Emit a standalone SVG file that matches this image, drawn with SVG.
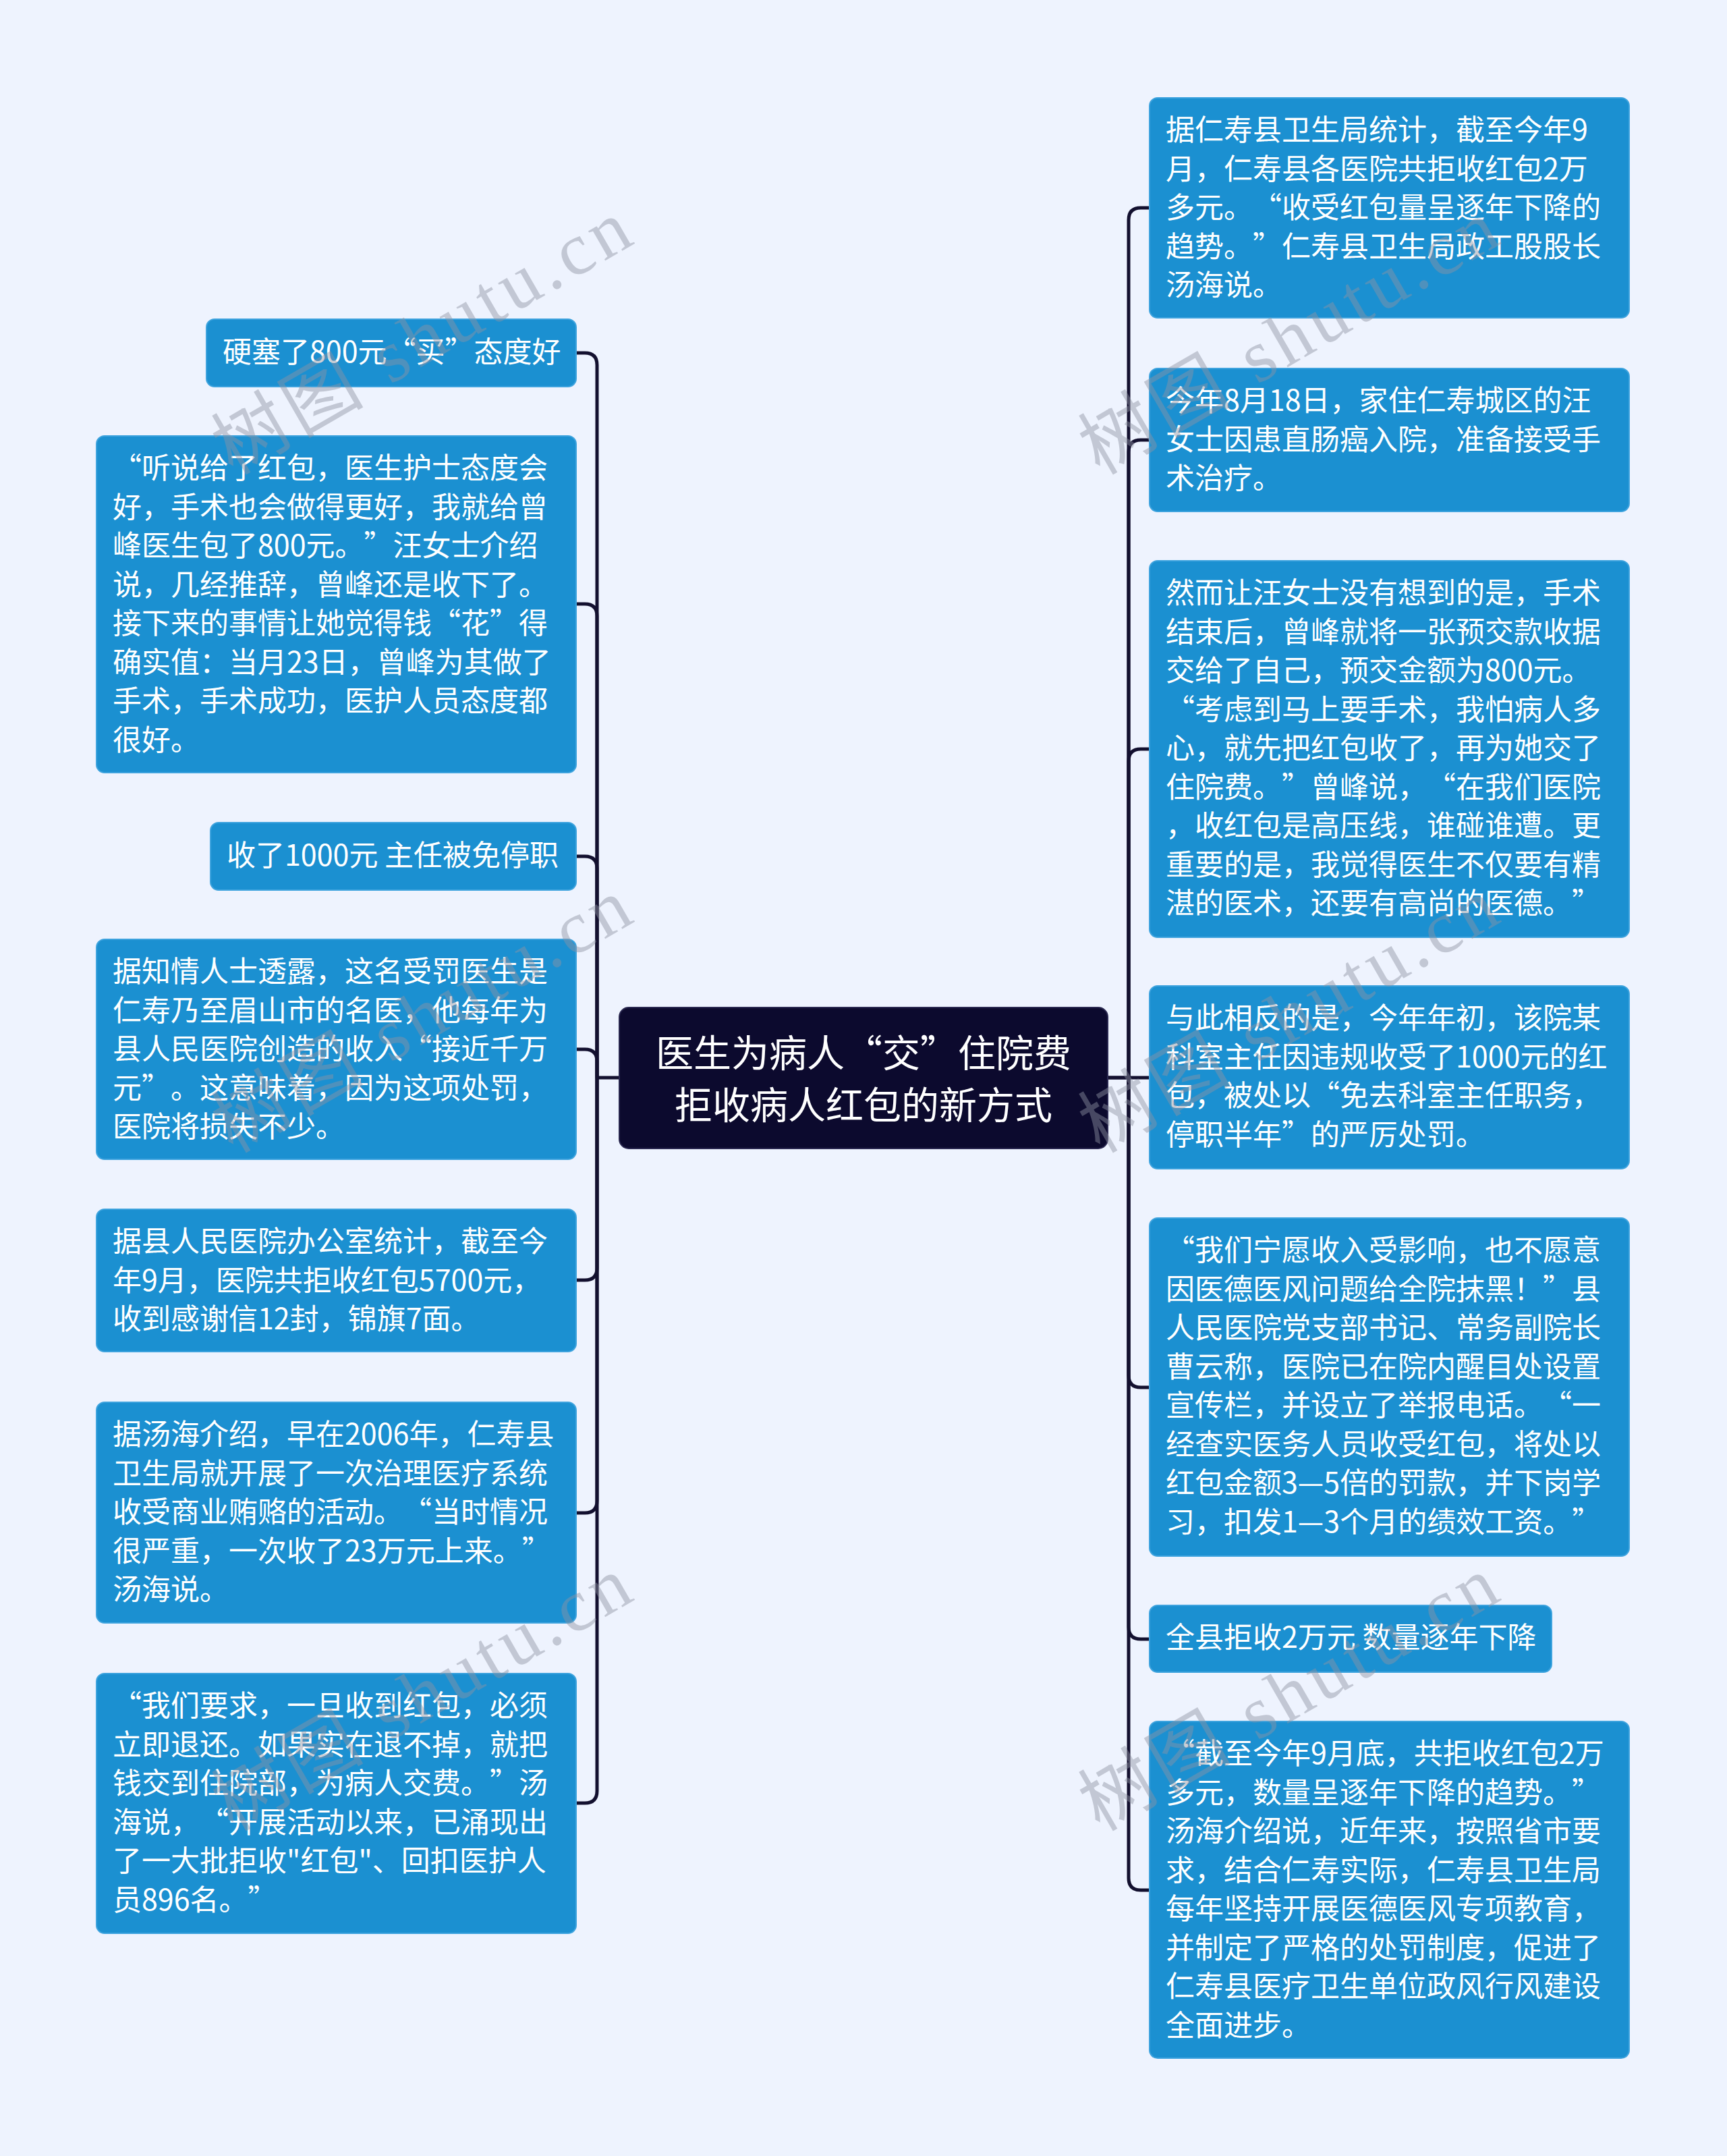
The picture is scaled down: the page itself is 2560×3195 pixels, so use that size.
<svg xmlns="http://www.w3.org/2000/svg" width="2560" height="3195" viewBox="0 0 2560 3195">
<style>
.box{fill:#1b90d1;stroke:#3ea3de;stroke-width:2}
.t{font-family:"Noto Sans CJK SC","Noto Sans",sans-serif;font-size:43px;fill:#ffffff;text-spacing-trim:space-all}
.ct{font-family:"Noto Sans CJK SC","Noto Sans",sans-serif;font-size:56px;fill:#ffffff;text-anchor:middle;text-spacing-trim:space-all}
.cn{fill:none;stroke:#13102f;stroke-width:5;stroke-linejoin:round}
.wm{font-family:"Liberation Serif","Noto Sans CJK SC",serif;font-size:110px;fill:#8f94a3;opacity:0.45}
</style>
<rect x="0" y="0" width="2560" height="3195" fill="#eef3fe"/>

<g id="connectors">
<path class="cn" d="M854,523 H867 Q885,523 885,541 V1597 H918"/>
<path class="cn" d="M854,895 H867 Q885,895 885,913 V1597"/>
<path class="cn" d="M854,1269 H867 Q885,1269 885,1287 V1597"/>
<path class="cn" d="M854,1555 H867 Q885,1555 885,1573 V1597"/>
<path class="cn" d="M854,1897 H867 Q885,1897 885,1879 V1597"/>
<path class="cn" d="M854,2242 H867 Q885,2242 885,2224 V1597"/>
<path class="cn" d="M854,2672 H867 Q885,2672 885,2654 V1597"/>
<path class="cn" d="M1642,1597 H1673 V326 Q1673,308 1691,308 H1704"/>
<path class="cn" d="M1673,1597 V670 Q1673,652 1691,652 H1704"/>
<path class="cn" d="M1673,1597 V1128 Q1673,1110 1691,1110 H1704"/>
<path class="cn" d="M1642,1597 H1704"/>
<path class="cn" d="M1673,1597 V2038 Q1673,2056 1691,2056 H1704"/>
<path class="cn" d="M1673,1597 V2411 Q1673,2429 1691,2429 H1704"/>
<path class="cn" d="M1673,1597 V2783 Q1673,2801 1691,2801 H1704"/>
</g>

<g id="center">
<rect x="918" y="1493" width="724" height="209" rx="14" fill="#0c0a2e" stroke="#2a2850" stroke-width="2"/>
<text class="ct" x="1280" y="1581">医生为病人“交”住院费</text>
<text class="ct" x="1280" y="1658">拒收病人红包的新方式</text>
</g>

<g id="L1">
<rect class="box" x="306" y="473" width="548" height="100" rx="12"/>
<text class="t" x="330" y="537">硬塞了800元“买”态度好</text>
</g>
<g id="L2">
<rect class="box" x="143" y="646" width="711" height="499" rx="12"/>
<text class="t" x="167" y="709">
<tspan x="167">“听说给了红包，医生护士态度会</tspan>
<tspan x="167" dy="57.5">好，手术也会做得更好，我就给曾</tspan>
<tspan x="167" dy="57.5">峰医生包了800元。”汪女士介绍</tspan>
<tspan x="167" dy="57.5">说，几经推辞，曾峰还是收下了。</tspan>
<tspan x="167" dy="57.5">接下来的事情让她觉得钱“花”得</tspan>
<tspan x="167" dy="57.5">确实值：当月23日，曾峰为其做了</tspan>
<tspan x="167" dy="57.5">手术，手术成功，医护人员态度都</tspan>
<tspan x="167" dy="57.5">很好。</tspan>
</text>
</g>
<g id="L3">
<rect class="box" x="312" y="1219" width="542" height="100" rx="12"/>
<text class="t" x="336" y="1283">收了1000元 主任被免停职</text>
</g>
<g id="L4">
<rect class="box" x="143" y="1392" width="711" height="326" rx="12"/>
<text class="t" x="167" y="1455">
<tspan x="167">据知情人士透露，这名受罚医生是</tspan>
<tspan x="167" dy="57.5">仁寿乃至眉山市的名医，他每年为</tspan>
<tspan x="167" dy="57.5">县人民医院创造的收入“接近千万</tspan>
<tspan x="167" dy="57.5">元”。这意味着，因为这项处罚，</tspan>
<tspan x="167" dy="57.5">医院将损失不少。</tspan>
</text>
</g>
<g id="L5">
<rect class="box" x="143" y="1792" width="711" height="211" rx="12"/>
<text class="t" x="167" y="1855">
<tspan x="167">据县人民医院办公室统计，截至今</tspan>
<tspan x="167" dy="57.5">年9月，医院共拒收红包5700元，</tspan>
<tspan x="167" dy="57.5">收到感谢信12封，锦旗7面。</tspan>
</text>
</g>
<g id="L6">
<rect class="box" x="143" y="2078" width="711" height="327" rx="12"/>
<text class="t" x="167" y="2141">
<tspan x="167">据汤海介绍，早在2006年，仁寿县</tspan>
<tspan x="167" dy="57.5">卫生局就开展了一次治理医疗系统</tspan>
<tspan x="167" dy="57.5">收受商业贿赂的活动。“当时情况</tspan>
<tspan x="167" dy="57.5">很严重，一次收了23万元上来。”</tspan>
<tspan x="167" dy="57.5">汤海说。</tspan>
</text>
</g>
<g id="L7">
<rect class="box" x="143" y="2480" width="711" height="385" rx="12"/>
<text class="t" x="167" y="2543">
<tspan x="167">“我们要求，一旦收到红包，必须</tspan>
<tspan x="167" dy="57.5">立即退还。如果实在退不掉，就把</tspan>
<tspan x="167" dy="57.5">钱交到住院部，为病人交费。”汤</tspan>
<tspan x="167" dy="57.5">海说，“开展活动以来，已涌现出</tspan>
<tspan x="167" dy="57.5">了一大批拒收"红包"、回扣医护人</tspan>
<tspan x="167" dy="57.5">员896名。”</tspan>
</text>
</g>

<g id="R1">
<rect class="box" x="1704" y="145" width="711" height="326" rx="12"/>
<text class="t" x="1728" y="208">
<tspan x="1728">据仁寿县卫生局统计，截至今年9</tspan>
<tspan x="1728" dy="57.5">月，仁寿县各医院共拒收红包2万</tspan>
<tspan x="1728" dy="57.5">多元。“收受红包量呈逐年下降的</tspan>
<tspan x="1728" dy="57.5">趋势。”仁寿县卫生局政工股股长</tspan>
<tspan x="1728" dy="57.5">汤海说。</tspan>
</text>
</g>
<g id="R2">
<rect class="box" x="1704" y="546" width="711" height="212" rx="12"/>
<text class="t" x="1728" y="609">
<tspan x="1728">今年8月18日，家住仁寿城区的汪</tspan>
<tspan x="1728" dy="57.5">女士因患直肠癌入院，准备接受手</tspan>
<tspan x="1728" dy="57.5">术治疗。</tspan>
</text>
</g>
<g id="R3">
<rect class="box" x="1704" y="831" width="711" height="558" rx="12"/>
<text class="t" x="1728" y="894">
<tspan x="1728">然而让汪女士没有想到的是，手术</tspan>
<tspan x="1728" dy="57.5">结束后，曾峰就将一张预交款收据</tspan>
<tspan x="1728" dy="57.5">交给了自己，预交金额为800元。</tspan>
<tspan x="1728" dy="57.5">“考虑到马上要手术，我怕病人多</tspan>
<tspan x="1728" dy="57.5">心，就先把红包收了，再为她交了</tspan>
<tspan x="1728" dy="57.5">住院费。”曾峰说，“在我们医院</tspan>
<tspan x="1728" dy="57.5">，收红包是高压线，谁碰谁遭。更</tspan>
<tspan x="1728" dy="57.5">重要的是，我觉得医生不仅要有精</tspan>
<tspan x="1728" dy="57.5">湛的医术，还要有高尚的医德。”</tspan>
</text>
</g>
<g id="R4">
<rect class="box" x="1704" y="1461" width="711" height="271" rx="12"/>
<text class="t" x="1728" y="1524">
<tspan x="1728">与此相反的是，今年年初，该院某</tspan>
<tspan x="1728" dy="57.5">科室主任因违规收受了1000元的红</tspan>
<tspan x="1728" dy="57.5">包，被处以“免去科室主任职务，</tspan>
<tspan x="1728" dy="57.5">停职半年”的严厉处罚。</tspan>
</text>
</g>
<g id="R5">
<rect class="box" x="1704" y="1805" width="711" height="501" rx="12"/>
<text class="t" x="1728" y="1868">
<tspan x="1728">“我们宁愿收入受影响，也不愿意</tspan>
<tspan x="1728" dy="57.5">因医德医风问题给全院抹黑！”县</tspan>
<tspan x="1728" dy="57.5">人民医院党支部书记、常务副院长</tspan>
<tspan x="1728" dy="57.5">曹云称，医院已在院内醒目处设置</tspan>
<tspan x="1728" dy="57.5">宣传栏，并设立了举报电话。“一</tspan>
<tspan x="1728" dy="57.5">经查实医务人员收受红包，将处以</tspan>
<tspan x="1728" dy="57.5">红包金额3—5倍的罚款，并下岗学</tspan>
<tspan x="1728" dy="57.5">习，扣发1—3个月的绩效工资。”</tspan>
</text>
</g>
<g id="R6">
<rect class="box" x="1704" y="2379" width="596" height="99" rx="12"/>
<text class="t" x="1728" y="2442">全县拒收2万元 数量逐年下降</text>
</g>
<g id="R7">
<rect class="box" x="1704" y="2551" width="711" height="499" rx="12"/>
<text class="t" x="1728" y="2614">
<tspan x="1728">“截至今年9月底，共拒收红包2万</tspan>
<tspan x="1728" dy="57.5">多元，数量呈逐年下降的趋势。”</tspan>
<tspan x="1728" dy="57.5">汤海介绍说，近年来，按照省市要</tspan>
<tspan x="1728" dy="57.5">求，结合仁寿实际，仁寿县卫生局</tspan>
<tspan x="1728" dy="57.5">每年坚持开展医德医风专项教育，</tspan>
<tspan x="1728" dy="57.5">并制定了严格的处罚制度，促进了</tspan>
<tspan x="1728" dy="57.5">仁寿县医疗卫生单位政风行风建设</tspan>
<tspan x="1728" dy="57.5">全面进步。</tspan>
</text>
</g>

<g id="watermarks">
<text class="wm" transform="translate(345,705) rotate(-30)" textLength="690">树图 shutu.cn</text>
<text class="wm" transform="translate(345,1710) rotate(-30)" textLength="690">树图 shutu.cn</text>
<text class="wm" transform="translate(345,2715) rotate(-30)" textLength="690">树图 shutu.cn</text>
<text class="wm" transform="translate(1630,705) rotate(-30)" textLength="690">树图 shutu.cn</text>
<text class="wm" transform="translate(1630,1710) rotate(-30)" textLength="690">树图 shutu.cn</text>
<text class="wm" transform="translate(1630,2715) rotate(-30)" textLength="690">树图 shutu.cn</text>
</g>
</svg>
